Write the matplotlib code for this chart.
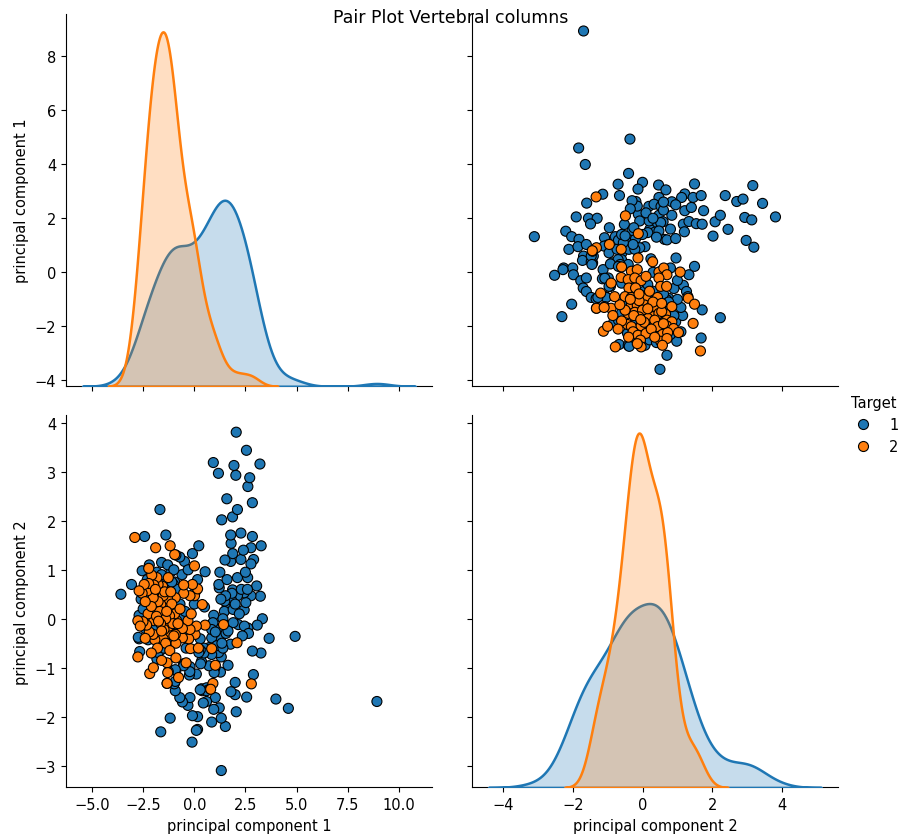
import matplotlib
matplotlib.use('Agg')
import matplotlib.pyplot as plt
import matplotlib.colors as mcolors
import pandas as pd
import seaborn as sns

# Target 1
pc1_t1 = [8.93, 4.93, 4.60, 3.99, 3.66, 3.26, 3.33, 3.23, 3.08, 3.05,
          3.27, 3.21, 2.89, 2.84, 2.90, 2.77, 2.77, 2.84, 2.84, 2.62,
          2.71, 2.55, 2.56, 2.62, 2.77, 2.61, 2.44, 2.52, 2.44, 2.28,
          2.28, 2.05, 2.05, 2.00, 2.00, 1.79, 2.15, 1.90, 1.77, 2.11,
          2.11, 1.87, 1.82, 1.78, 1.88, 1.80, 1.78, 1.87, 2.11, 2.03,
          1.94, 1.59, 1.34, 1.59, 1.49, 1.47, 1.22, 1.18, 0.93, 1.32,
          1.52, 1.32, 1.22, 0.85, 0.95, 1.03, 1.28, 1.32, 1.19, 1.22,
          1.24, 1.01, 0.95, 0.91, 0.97, 0.72, 0.97, 0.72, 0.85, 0.85,
          0.85, 0.60, 0.35, 0.47, 0.29, 0.16, 0.16, 0.50, 0.53, 0.16,
          -0.09, 0.22, -0.11, 0.10, -0.09, 0.44, 0.39, 0.60, 0.10, 0.35,
          0.47, 0.29, -0.31, -0.21, -0.58, -0.71, -0.24, -0.21, -0.52, -0.93,
          -0.98, -1.18, -1.64, -0.90, -1.83, -1.64, -2.67, -2.70, -0.48, -0.71,
          -1.39, -1.68, -1.14, -2.43, -3.07, -3.59, -2.23, -2.55, -2.74, -2.70,
          -1.83, -2.20, -1.77, -2.26, -0.22, -0.52, -0.93, -0.93, -1.33, -1.27,
          0.60, 0.78, 0.29, 0.31, 0.22, 2.30, 1.90, 1.84, 1.53, 1.03,
          -0.70, -0.90, -0.96, -1.30, -1.85, -1.95, -1.60, 0.05, -1.02,
          1.10, 2.45, 1.55, 2.65, 1.40, 2.50, 2.35, 1.65, 1.65, -0.40,
          # partly hidden under the orange cluster
          -1.00, -1.20, -1.50, -1.70, -2.00, -2.30, -2.50, -0.80, -0.60, 1.30,
          1.40, -0.50, -0.80, -1.10, -1.40, -1.90, -2.10, -2.40, -1.60, -1.30,
          1.20, 0.00, 2.20, 2.60, 2.40, 1.35, -0.70, -1.00, -1.80, -2.20,
          -0.45, -1.25, 1.60, 2.00, 1.25, -2.60, -1.50, -0.90, 1.50, -0.30,
          -1.10]
pc2_t1 = [-1.69, -0.36, -1.83, -1.64, -0.40, -0.70, 0.00, 0.46, -0.13, 0.67,
          1.49, 3.16, -1.14, -0.66, 1.21, 1.12, 1.45, 1.68, 2.37, 2.70,
          2.88, 3.44, -1.60, -0.19, 0.47, 0.84, 0.18, 0.33, 0.53, 1.21,
          1.75, 3.81, -1.90, -1.55, -1.30, -1.49, -0.12, -0.08, -0.52, 0.47,
          0.84, 0.59, 0.38, 1.17, 1.33, 1.54, 1.71, 2.08, 2.23, 2.93,
          3.13, 2.45, 2.02, 0.21, 0.36, 0.15, 0.63, 2.97, 3.19, -3.10,
          -2.20, -2.03, -1.82, -2.11, -1.85, -1.61, -1.09, -0.78, -0.69, -0.39,
          -0.20, -1.00, 0.07, -0.08, -0.29, -0.59, -1.10, -0.96, -0.73, -0.39,
          -0.22, -1.69, -1.43, -0.60, -0.41, -2.26, -2.00, 0.24, 0.96, 0.80,
          1.33, 1.49, -2.52, -2.28, -1.98, -1.72, -1.47, -1.41, -1.13, -0.87,
          -0.70, -0.64, -1.77, -1.61, -1.70, -1.61, -1.15, -0.98, -0.92, -1.47,
          -1.33, -2.03, -2.31, -1.06, -0.82, -0.64, -0.67, -0.41, 1.17, 1.26,
          1.71, 2.23, 0.96, 1.68, 0.70, 0.50, 0.33, 0.98, -0.38, 0.07,
          0.95, 0.45, -0.69, -0.43, -1.08, -0.96, -1.04, -1.28, -1.32, -1.08,
          -1.47, -1.43, -1.45, -0.92, -0.69, 0.60, 0.19, 0.52, 0.47, -0.27,
          0.05, 0.29, 0.75, 0.80, 0.24, 0.57, 1.15, 0.55, 0.70,
          -0.55, -0.15, -0.30, -0.30, -0.60, 0.95, -0.35, -0.95, -0.25, -0.60,
          0.20, 0.50, 0.10, 0.60, 0.30, 0.80, 0.20, 0.60, 0.90, 0.40,
          0.00, -0.30, -0.20, -0.50, -0.30, -0.20, 0.00, -0.20, 0.90, 1.10,
          0.70, 0.30, 0.10, 0.60, 1.40, -0.50, 0.30, 1.00, 0.40, 1.10,
          0.15, -0.10, 0.80, 0.30, 0.95, 0.40, -0.60, 1.30, 1.20, 1.00,
          0.75]

# Target 2
pc1_t2 = [2.79, 2.09, 1.43, 0.91, 1.03, 0.85, 0.53, 0.39, 0.04, 0.10,
          -0.19, -0.27, -0.21, -0.31, -0.15, 0.01, 0.16, -0.09, -0.21, 0.01,
          -0.58, -0.58, -0.90, -0.93, -0.52, -0.52, -0.77, -0.86, -0.96, -0.93,
          -0.96, -1.18, -1.33, -1.33, -1.21, -1.23, -1.21, -1.27, -1.31, -1.27,
          -1.52, -1.48, -1.52, -1.64, -1.52, -1.55, -1.70, -1.77, -1.77, -1.83,
          -1.93, -2.01, -1.98, -2.01, -1.98, -2.08, -2.23, -1.89, -2.18, -2.20,
          -2.33, -2.26, -2.30, -2.23, -2.51, -2.55, -2.45, -2.76, -2.76, -2.64,
          -2.70, -2.91, 0.80,
          -1.05, -1.40, -1.65, -1.85, -1.10, -1.45, -2.10, -1.60, -0.70, -1.90,
          -1.35, -2.40, -1.75, -1.15, -0.80,
          -1.40, -1.80, -2.10, -1.20, -0.90, -1.60, -2.40, -1.00, -0.40, -2.00,
          -1.30, 0.20]
pc2_t2 = [-1.33, -0.49, -0.12, -1.32, -0.95, -0.61, -0.13, 0.29, -0.32, -0.15,
          -0.61, -0.41, -0.22, -0.04, 0.10, 0.47, 0.61, 0.70, 0.47, 1.08,
          -0.39, -0.20, -0.50, -0.32, 0.52, 0.69, -1.20, -0.04, 0.10, 0.43,
          1.31, 1.49, -1.32, -0.90, -0.32, -0.15, 0.06, 0.24, 0.41, 0.84,
          -0.41, -0.22, 0.06, 0.29, 0.47, 0.66, 0.15, 0.35, 0.70, 0.84,
          -0.43, -0.32, -0.04, 0.43, 0.69, 0.89, 1.03, 1.45, -1.12, -0.27,
          -0.13, 0.10, 0.57, 0.72, -0.06, 0.52, 0.70, -0.78, -0.04, -0.15,
          0.57, 1.66, -1.44,
          -0.10, 0.00, -0.10, 0.05, 0.30, 0.55, 0.25, -0.25, 0.20, 0.60,
          0.15, 0.35, -0.05, 0.55, -0.10,
          -0.50, -0.60, -0.70, -0.65, -0.80, -0.85, -0.40, -0.35, -0.90, -1.00,
          -1.10, -0.60]

targets = ['1', '2']
colors = ['#1f77b4', '#ff7f0e']

df = pd.DataFrame({
    'principal component 1': pc1_t1 + pc1_t2,
    'principal component 2': pc2_t1 + pc2_t2,
    'Target': [targets[0]] * len(pc1_t1) + [targets[1]] * len(pc1_t2),
})

plt.rcParams['font.size'] = 10.5

g = sns.pairplot(df, hue='Target', hue_order=targets, palette=colors,
                 vars=['principal component 1', 'principal component 2'],
                 diag_kind='kde', grid_kws=dict(diag_sharey=False),
                 plot_kws=dict(s=52, edgecolor='k', linewidth=0.8),
                 diag_kws=dict(common_norm=False, linewidth=1.8, alpha=0.25))

# orange density drawn over the blue one, as in the original
orange = mcolors.to_rgb(colors[1])
for dax in g.diag_axes:
    for art in list(dax.collections) + list(dax.lines):
        if hasattr(art, 'get_facecolor') and len(art.get_facecolor()):
            c = art.get_facecolor()[0][:3]
        else:
            c = mcolors.to_rgb(art.get_color())
        if max(abs(a - b) for a, b in zip(c, orange)) < 0.05:
            art.set_zorder(art.get_zorder() + 1)

fig = g.fig
fig.set_size_inches(9.02, 8.37)
fig.subplots_adjust(left=0.073, right=0.929, bottom=0.058, top=0.982,
                    wspace=0.109, hspace=0.078)
sns.move_legend(g, 'upper left', bbox_to_anchor=(0.926, 0.543), frameon=False)
fig.suptitle('Pair Plot Vertebral columns', y=0.989, fontsize=12.5)

fig.savefig('out.png', dpi=100)
